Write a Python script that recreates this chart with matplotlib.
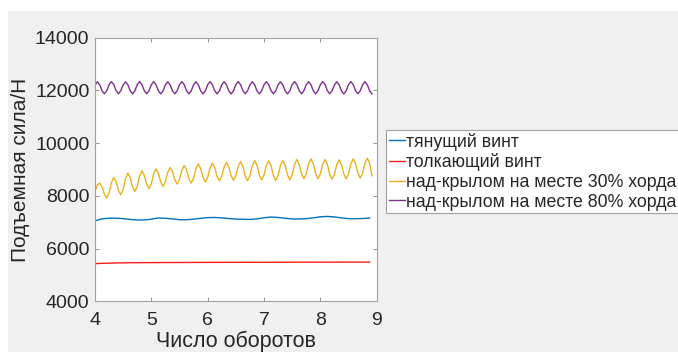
import numpy as np
import matplotlib
matplotlib.use('Agg')
import matplotlib.pyplot as plt
from matplotlib.patches import Rectangle

plt.rcParams['font.family'] = ['Liberation Sans', 'DejaVu Sans']

# legend labels
labels = ['тянущий винт', 'толкающий винт',
          'над-крылом на месте 30% хорда', 'над-крылом на месте 80% хорда']
x_label = 'Число оборотов'
y_label = 'Подъемная сила/Н'

# fast-oscillating series are sampled every 1/24 revolution (4.0 .. 8.917)
rev_fast = 4.0 + np.arange(119) / 24.0
# slow series every 1/8 revolution (4.0 .. 8.875)
rev_slow = 4.0 + np.arange(40) / 8.0

# pulling propeller (blue)
lift_pull = [7050, 7130, 7150, 7155, 7135, 7105, 7085, 7085, 7115, 7160,
             7150, 7125, 7095, 7095, 7115, 7150, 7175, 7180, 7165, 7140,
             7120, 7110, 7107, 7125, 7170, 7197, 7180, 7150, 7122, 7122,
             7135, 7165, 7205, 7220, 7200, 7165, 7135, 7132, 7140, 7158]

# pushing propeller (red)
lift_push = [5430, 5440, 5448, 5455, 5460, 5463, 5465, 5467, 5468, 5470,
             5471, 5472, 5473, 5474, 5475, 5475, 5476, 5477, 5477, 5478,
             5478, 5479, 5480, 5480, 5481, 5481, 5482, 5482, 5483, 5483,
             5484, 5484, 5485, 5485, 5486, 5486, 5487, 5487, 5488, 5488]

# over wing, 30% chord (yellow)
lift_30 = [8167, 8420, 8485, 8343, 8059, 7917, 8112, 8502, 8697, 8533,
           8206, 8042, 8248, 8659, 8864, 8690, 8341, 8167, 8363, 8755,
           8951, 8780, 8439, 8269, 8459, 8838, 9027, 8859, 8524, 8356,
           8536, 8896, 9076, 8919, 8604, 8447, 8623, 8976, 9152, 8985,
           8652, 8485, 8668, 9033, 9216, 9043, 8696, 8523, 8703, 9062,
           9242, 9074, 8739, 8572, 8745, 9092, 9265, 9096, 8759, 8590,
           8768, 9125, 9303, 9120, 8755, 8572, 8764, 9149, 9341, 9158,
           8793, 8610, 8790, 9150, 9330, 9143, 8770, 8583, 8773, 9152,
           9341, 9158, 8793, 8610, 8802, 9187, 9379, 9196, 8831, 8648,
           8837, 9216, 9405, 9216, 8837, 8648, 8831, 9196, 9379, 9193,
           8822, 8636, 8819, 9184, 9367, 9187, 8828, 8648, 8837, 9216,
           9405, 9222, 8857, 8674, 8864, 9243, 9432, 9236, 8760]

# over wing, 80% chord (purple)
lift_80 = [12215, 12330, 12215, 11985, 11870, 11985,
           12220, 12335, 12218, 11988, 11872, 11990,
           12212, 12328, 12214, 11984, 11868, 11986,
           12222, 12338, 12220, 11990, 11874, 11988,
           12216, 12332, 12216, 11986, 11870, 11985,
           12213, 12329, 12215, 11985, 11869, 11987,
           12220, 12336, 12219, 11989, 11873, 11989,
           12215, 12330, 12215, 11985, 11870, 11985,
           12218, 12334, 12217, 11987, 11871, 11987,
           12214, 12330, 12214, 11984, 11869, 11986,
           12221, 12337, 12220, 11990, 11873, 11989,
           12215, 12331, 12216, 11986, 11870, 11986,
           12217, 12333, 12216, 11986, 11871, 11987,
           12213, 12329, 12214, 11984, 11868, 11985,
           12220, 12336, 12219, 11989, 11872, 11988,
           12216, 12332, 12216, 11986, 11870, 11986,
           12219, 12335, 12218, 11988, 11872, 11988,
           12214, 12330, 12215, 11985, 11869, 11986,
           12221, 12337, 12220, 11990, 11873, 11989,
           12216, 12332, 12216, 11986, 11870]

colors = ['#0072BD', '#FF1A1A', '#EDB120', '#7E2F8E']
text_col = '#262626'

fig = plt.figure(figsize=(6.78, 3.52), dpi=100, facecolor='white')
fig.patches.append(Rectangle((8 / 678, 0), 1, 1 - 11 / 352, transform=fig.transFigure,
                             facecolor='#F0F0F0', edgecolor='none', zorder=-10))

ax = fig.add_axes([95 / 678, 1 - 301.3 / 352, 281.7 / 678, 263.6 / 352])
ax.plot(rev_slow, lift_pull, color=colors[0], lw=1.0, label=labels[0])
ax.plot(rev_slow, lift_push, color=colors[1], lw=1.0, label=labels[1])
ax.plot(rev_fast, lift_30, color=colors[2], lw=1.0, label=labels[2])
ax.plot(rev_fast, lift_80, color=colors[3], lw=1.0, label=labels[3])

ax.set_xlim(4, 9)
ax.set_ylim(4000, 14000)
ax.set_xticks(range(4, 10))
ax.set_yticks(range(4000, 14001, 2000))
ax.tick_params(direction='in', length=3, width=0.6, top=True, right=True,
               labelsize=14, colors='#7f7f7f', labelcolor=text_col)
ax.tick_params(axis='x', pad=8)
ax.tick_params(axis='y', pad=4)
for s in ax.spines.values():
    s.set_color('#a0a0a0')
    s.set_linewidth(0.8)

# axis titles placed in figure pixels like the reference
fig.text(236 / 678, 4.5 / 352, x_label, fontsize=15.5, color=text_col,
         ha='center', va='baseline')
fig.text(21 / 678, 1 - 170 / 352, y_label, fontsize=15, color=text_col,
         ha='center', va='center', rotation=90)

leg = ax.legend(loc='upper left', bbox_to_anchor=(386 / 678, 1 - 130 / 352),
                bbox_transform=fig.transFigure, fontsize=12.8, frameon=True,
                fancybox=False, framealpha=1, edgecolor='#a0a0a0',
                borderaxespad=0, borderpad=0.15, handlelength=0.9,
                handletextpad=0.05, labelspacing=0.15)
leg.get_frame().set_linewidth(0.8)
for t in leg.get_texts():
    t.set_color(text_col)

fig.savefig('out.png', dpi=100, facecolor=fig.get_facecolor())
